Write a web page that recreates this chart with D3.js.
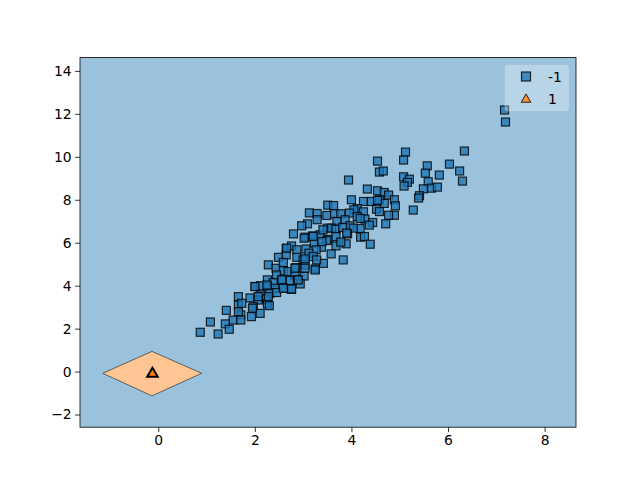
<!DOCTYPE html>
<html>
<head>
<meta charset="utf-8">
<script src="https://cdn.jsdelivr.net/npm/d3@7"></script>
<style>
  body { margin: 0; background: #fff; }
  text { font-family: "DejaVu Sans", sans-serif; }
</style>
</head>
<body>
<svg id="chart" width="640" height="480"></svg>
<script>

// class -1 samples (x, y)
var negX = [6.34, 5.12, 5.08, 4.54, 6.03, 5.57, 6.24, 4.58, 4.66, 5.53, 5.82, 5.08, 5.20, 5.16, 3.94, 6.30, 5.59, 5.09, 5.49, 5.66,
	5.78, 4.33, 4.54, 4.68, 4.77, 5.41, 5.39, 4.00, 4.25, 4.41, 4.58, 4.89, 4.68, 4.91, 4.54, 3.51, 3.63, 4.12, 4.05, 4.52,
	5.28, 4.89, 4.77, 3.13, 3.29, 3.49, 3.65, 3.78, 3.96, 4.25, 4.58, 4.28, 4.44, 4.37, 4.71, 4.12, 4.18, 3.70, 3.87, 3.97,
	4.18, 3.29, 3.09, 2.97, 3.50, 3.59, 3.68, 3.82, 4.04, 2.80, 3.04, 3.20, 3.35, 3.52, 3.68, 3.92, 4.19, 4.27, 3.89, 4.39,
	3.06, 3.23, 3.38, 3.49, 3.68, 2.65, 2.76, 2.87, 3.27, 3.12, 2.49, 2.65, 2.87, 3.00, 3.21, 3.42, 3.58, 3.28, 3.83, 2.28,
	2.44, 2.59, 2.85, 3.04, 2.59, 2.69, 2.45, 2.83, 3.02, 2.26, 2.38, 2.56, 2.73, 2.88, 2.01, 2.12, 2.26, 2.42, 2.59, 2.76,
	2.94, 2.31, 2.45, 2.11, 1.90, 1.66, 2.07, 2.24, 1.66, 1.97, 1.73, 2.26, 2.30, 2.11, 1.95, 1.41, 1.55, 1.71, 1.93, 1.71,
	1.66, 1.08, 1.39, 1.47, 0.87, 1.24, 7.17, 7.19, 3.90, 3.25, 3.41, 3.02, 3.78, 3.04, 2.83, 3.04, 3.25, 2.56,
	2.90, 2.00, 2.25, 2.59, 2.76, 2.07, 2.28, 2.66, 3.39, 3.21]
var negY = [10.27, 10.22, 9.85, 9.80, 9.66, 9.58, 9.34, 9.29, 9.34, 9.24, 9.15, 9.07, 8.96, 8.81, 8.92, 8.87, 8.84, 8.64, 8.51, 8.54,
	8.59, 8.50, 8.42, 8.34, 8.22, 8.19, 8.08, 8.00, 7.92, 7.92, 8.00, 8.00, 7.83, 7.72, 7.97, 7.75, 7.73, 7.59, 7.53, 7.56,
	7.52, 7.28, 7.28, 7.39, 7.36, 7.27, 7.35, 7.35, 7.38, 7.44, 7.45, 7.10, 6.94, 6.82, 6.88, 7.22, 7.13, 6.99, 7.07, 6.79,
	6.66, 7.07, 6.88, 6.79, 6.68, 6.68, 6.63, 6.71, 6.68, 6.41, 6.26, 6.32, 6.37, 6.16, 6.29, 6.41, 6.26, 6.29, 5.95, 5.93,
	5.71, 5.98, 5.79, 6.10, 5.85, 5.73, 5.85, 5.67, 5.67, 5.51, 5.32, 5.43, 5.32, 5.20, 5.36, 5.04, 5.48, 5.20, 5.20, 4.97,
	4.81, 5.08, 4.84, 4.97, 4.70, 4.66, 4.50, 4.49, 4.45, 4.27, 4.14, 4.27, 4.24, 4.27, 3.96, 4.00, 3.96, 3.88, 3.88, 3.83,
	4.08, 3.65, 3.68, 3.57, 3.43, 3.49, 3.33, 3.37, 3.10, 3.02, 3.18, 3.15, 3.07, 2.71, 2.95, 2.85, 2.40, 2.64, 2.56, 2.40,
	2.79, 2.31, 2.22, 1.97, 1.83, 1.75, 12.18, 11.62, 6.45, 4.78, 6.60, 6.21, 6.03, 5.25, 4.81, 4.81, 4.73, 4.27,
	4.27, 3.96, 4.03, 3.88, 3.85, 3.49, 3.49, 5.75, 6.05, 6.29]

// class 1 samples
var posX = [-0.12]
var posY = [-0.08]

// decision region of class 1 (polygon corners)
var regionX = [-1.15, -0.13, 0.90, -0.13]
var regionY = [-0.08, 0.94, -0.08, -1.13]

var xTicks = [0, 2, 4, 6, 8]
var yTicks = [-2, 0, 2, 4, 6, 8, 10, 12, 14]
var classLabels = ["-1", "1"]

var svg = d3.select("#chart")
var pLeft = 80, pRight = 576, pTop = 57.6, pBottom = 427.2

var x = d3.scaleLinear().domain([-1.62, 8.65]).range([pLeft, pRight])
var y = d3.scaleLinear().domain([-2.59, 14.62]).range([pBottom, pTop])

var fmt = function (d) { return d < 0 ? "\u2212" + Math.abs(d) : String(d) }

// class -1 region fills the rest of the plane
svg.append("rect")
	.attr("x", pLeft).attr("y", pTop)
	.attr("width", pRight - pLeft).attr("height", pBottom - pTop)
	.attr("fill", "#9ac2dd")

var regionPts = regionX.map(function (d, i) { return [x(d), y(regionY[i])] })
svg.append("polygon")
	.attr("points", regionPts.map(function (p) { return p.join(",") }).join(" "))
	.attr("fill", "#ffc593")
	.attr("stroke", "#444")
	.attr("stroke-width", 0.8)

var sq = 8
svg.selectAll("rect.neg")
	.data(negX)
	.enter()
	.append("rect")
	.attr("class", "neg")
	.attr("x", function (d) { return x(d) - sq / 2 })
	.attr("y", function (d, i) { return y(negY[i]) - sq / 2 })
	.attr("width", sq).attr("height", sq)
	.attr("fill", "#1f77b4")
	.attr("fill-opacity", 0.8)
	.attr("stroke", "#000")
	.attr("stroke-opacity", 0.8)
	.attr("stroke-width", 1.2)

var tri = d3.symbol().type(d3.symbolTriangle).size(48)
svg.selectAll("path.pos")
	.data(posX)
	.enter()
	.append("path")
	.attr("class", "pos")
	.attr("d", tri)
	.attr("transform", function (d, i) { return "translate(" + x(d) + "," + (y(posY[i]) + 0.5) + ")" })
	.attr("fill", "#ff7f0e")
	.attr("stroke", "#000")
	.attr("stroke-width", 2)

// axes
var xAxis = d3.axisBottom(x).tickValues(xTicks).tickFormat(fmt).tickSize(4.9).tickPadding(3.5).tickSizeOuter(0)
var yAxis = d3.axisLeft(y).tickValues(yTicks).tickFormat(fmt).tickSize(4.9).tickPadding(3.5).tickSizeOuter(0)

var gx = svg.append("g").attr("transform", "translate(0," + pBottom + ")").call(xAxis)
var gy = svg.append("g").attr("transform", "translate(" + pLeft + ",0)").call(yAxis)
;[gx, gy].forEach(function (g) {
	g.select(".domain").remove()
	g.selectAll("line").attr("stroke", "#000").attr("stroke-width", 0.8)
	g.selectAll("text").attr("font-size", "13.9px").attr("fill", "#000")
		.style("font-family", "'DejaVu Sans', sans-serif")
})

svg.append("rect")
	.attr("x", pLeft).attr("y", pTop)
	.attr("width", pRight - pLeft).attr("height", pBottom - pTop)
	.attr("fill", "none")
	.attr("stroke", "#000")
	.attr("stroke-width", 0.8)

// legend
var lg = svg.append("g").attr("transform", "translate(505,65)")
lg.append("rect")
	.attr("width", 64).attr("height", 46).attr("rx", 3)
	.attr("fill", "#fff").attr("fill-opacity", 0.3)
	.attr("stroke", "#ccc").attr("stroke-opacity", 0.3)

lg.append("rect")
	.attr("x", 21 - 4.5).attr("y", 11.5 - 4.5).attr("width", 9).attr("height", 9)
	.attr("fill", "#1f77b4").attr("fill-opacity", 0.8)
	.attr("stroke", "#000").attr("stroke-opacity", 0.8).attr("stroke-width", 1.2)
lg.append("path")
	.attr("d", d3.symbol().type(d3.symbolTriangle).size(40))
	.attr("transform", "translate(21,34.5)")
	.attr("fill", "#ff7f0e").attr("fill-opacity", 0.8)
	.attr("stroke", "#000").attr("stroke-opacity", 0.8).attr("stroke-width", 1)

lg.selectAll("text.lab")
	.data(classLabels)
	.enter()
	.append("text")
	.attr("class", "lab")
	.attr("x", 43)
	.attr("y", function (d, i) { return 16.5 + i * 22.5 })
	.attr("font-size", "13.9px")
	.text(function (d) { return d })

</script>
</body>
</html>
